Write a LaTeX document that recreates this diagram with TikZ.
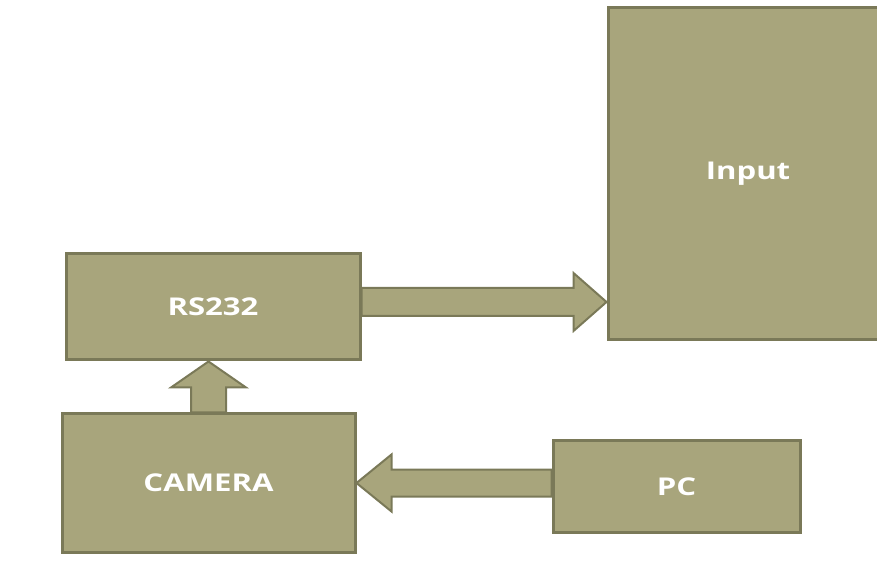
\documentclass[tikz,border=0pt]{standalone}
\usepackage{fontspec}
\setsansfont{Open Sans}
\usetikzlibrary{calc}
\definecolor{boxfill}{HTML}{A8A57C}
\definecolor{boxline}{HTML}{7A7958}
\newcommand{\widetxt}[1]{\scalebox{1.27}[1]{#1}}
\tikzset{
  blockbox/.style={rectangle, fill=boxfill, draw=boxline, line width=3pt,
    text=white, font=\sffamily\bfseries\fontsize{24.5}{28}\selectfont, inner sep=0pt},
  blockarrow/.style={fill=boxfill, draw=boxline, line width=2pt, line join=miter}
}
\begin{document}
\begin{tikzpicture}[x=1pt,y=1pt]
\useasboundingbox (0,0) rectangle (877,562);
\clip (0,0) rectangle (877,562);
\node[blockbox, minimum width=294pt, minimum height=106pt] (rs) at (213,255) {\widetxt{RS232}};
\node[blockbox, minimum width=293pt, minimum height=138pt] (cam) at (208.5,79) {\widetxt{CAMERA}};
\node[blockbox, minimum width=247pt, minimum height=91pt] (pc) at (676.5,75.5) {\widetxt{PC}};
\node[blockbox, minimum width=280pt, minimum height=332pt] (inp) at (748,388) {\widetxt{Input}};
% RS232 -> Input
\path let \p1=(rs.east), \p2=(inp.west) in
  [blockarrow] (\x1,\y1+5pt+14pt) -- (\x2-33pt,\y1+5pt+14pt) -- (\x2-33pt,\y1+5pt+29pt)
  -- (\x2,\y1+5pt) -- (\x2-33pt,\y1+5pt-29pt) -- (\x2-33pt,\y1+5pt-14pt)
  -- (\x1,\y1+5pt-14pt) -- cycle;
% PC -> CAMERA
\path let \p1=(pc.west), \p2=(cam.east) in
  [blockarrow] (\x1,\y2+13.5pt) -- (\x2+35pt,\y2+13.5pt) -- (\x2+35pt,\y2+28.5pt)
  -- (\x2,\y2) -- (\x2+35pt,\y2-28.5pt) -- (\x2+35pt,\y2-13.5pt)
  -- (\x1,\y2-13.5pt) -- cycle;
% CAMERA -> RS232
\path let \p1=(cam.north), \p2=(rs.south) in
  [blockarrow] (\x1-17.5pt,\y1) -- (\x1-17.5pt,\y2-26pt) -- (\x1-37.5pt,\y2-26pt)
  -- (\x1,\y2) -- (\x1+37.5pt,\y2-26pt) -- (\x1+17.5pt,\y2-26pt)
  -- (\x1+17.5pt,\y1) -- cycle;
\end{tikzpicture}
\end{document}
